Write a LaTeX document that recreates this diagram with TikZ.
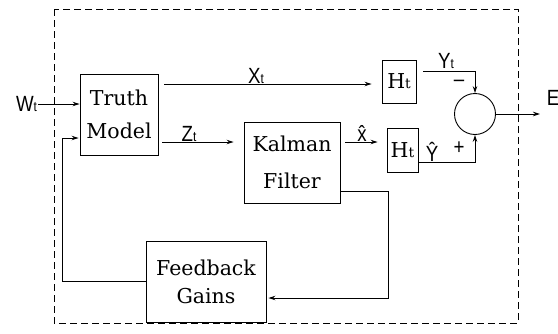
\documentclass[tikz,border=0pt]{standalone}
\usepackage{fontspec}
\setmainfont{DejaVu Serif}
\newfontfamily\labfont[FakeStretch=0.85]{Liberation Sans}
\usetikzlibrary{arrows.meta}
% small subscript t set on the baseline
\newcommand\subt{{\fontsize{14}{14}\selectfont t}}
\begin{document}
\begin{tikzpicture}[x=1pt,y=-1pt,
  line width=0.9pt,
  arr/.style={-{Stealth[length=7pt,width=4.5pt]}},
  blk/.style={draw, rectangle, inner sep=0pt, align=center,
              font=\fontsize{20.5}{33}\selectfont},
  hbox/.style={draw, rectangle, inner sep=0pt,
               font=\fontsize{20.5}{20.5}\selectfont},
  lab/.style={inner sep=0.5pt, font=\labfont\fontsize{22}{22}\selectfont},
  sgn/.style={inner sep=0pt, font=\labfont\fontsize{22}{22}\selectfont}]

\useasboundingbox (0,0) rectangle (558,333);

% system boundary
\draw[line width=0.8pt, dash pattern=on 7pt off 4pt] (54,9) rectangle (518,323);

% blocks
\node[blk, minimum width=78, minimum height=81] (tm) at (119,114.5) {Truth\\Model};
\node[blk, minimum width=96, minimum height=81] (kf) at (292,162.5) {Kalman\\[4pt]Filter};
\node[blk, minimum width=120, minimum height=81] (fg) at (206,281.5) {Feedback\\[-5pt]Gains};
\node[hbox, minimum width=34, minimum height=43] (h1) at (399,81.5) {H\subt};
\node[hbox, minimum width=31, minimum height=44] (h2) at (402.5,150) {H\subt};
\node[draw, circle, minimum size=41, inner sep=0pt] (sum) at (475,114) {};

% process noise input
\node[lab, anchor=east] (w) at (38,104) {W\subt};
\draw[arr] (w.east) -- (w.east -| tm.west);

% true state to measurement matrix
\coordinate (xin) at ([yshift=-2.5pt]h1.west);
\draw[arr, shorten <=6pt, shorten >=10pt] (tm.east |- xin) -- (xin);
\node[lab, anchor=base] (xl) at (256,83) {X\subt};

% measurements into the filter
\coordinate (zin) at ([yshift=20.5pt]kf.west);
\draw[arr, shorten <=4pt, shorten >=10pt] (tm.east |- zin) -- (zin);
\node[lab, anchor=base] (zl) at (189,141) {Z\subt};

% state estimate to measurement matrix
\draw[arr, shorten <=5pt, shorten >=9pt] (kf.east |- zin) -- (h2.west |- zin);
\node[lab, anchor=base] (xh) at (362,141) {\^x};

% true output into the summing junction
\coordinate (ya) at ([yshift=10.5pt]h1.east);
\draw[arr, shorten <=7pt] (ya) -| (sum.north);
\node[lab, anchor=base] (yl) at (446,68) {Y\subt};
\node[sgn] (minus) at (459,83) {–};

% estimated output into the summing junction
\coordinate (yb) at ([yshift=-12pt]h2.east);
\draw[arr] (yb) -| (sum.south);
\node[lab, anchor=base] (yh) at (432,161) {\^Y};
\node[sgn] (plus) at (459,148) {+};

% error output
\coordinate (eo) at (540,114);
\draw[arr] (sum.east) -- (eo);
\node[lab, anchor=base west] (el) at (546,105) {E};

% filter to feedback gains
\coordinate (ka) at (388,191);
\coordinate (kb) at (388,298);
\draw[arr, shorten >=2pt] (kf.east |- ka) -- (ka) -- (kb) -- (fg.east |- kb);

% feedback into the truth model
\coordinate (fb) at (62,138);
\draw[arr, shorten >=1pt] (fg.west) -| (fb) -- (fb -| tm.west);
\end{tikzpicture}
\end{document}
